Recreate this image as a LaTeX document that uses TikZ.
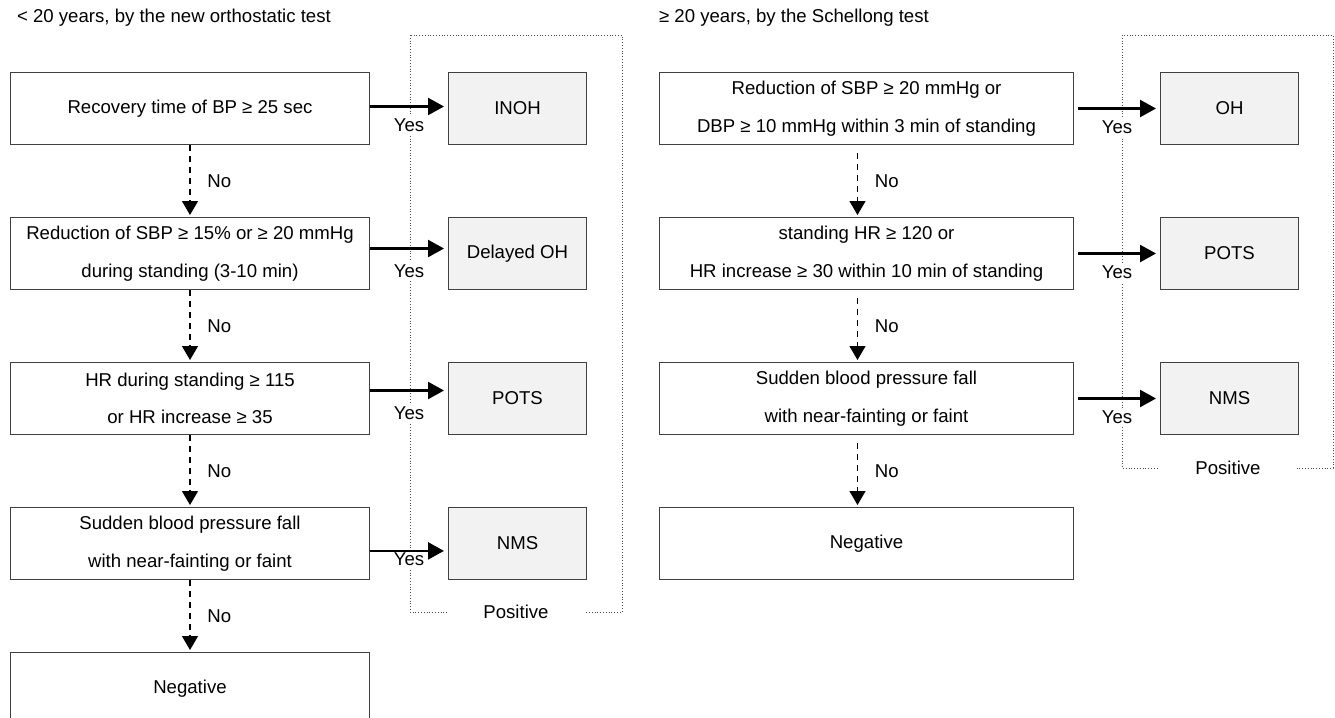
\documentclass[tikz,border=0pt]{standalone}
\usepackage{fontspec}
\setmainfont{Liberation Sans}
\usetikzlibrary{arrows.meta, positioning}

\begin{document}
\begin{tikzpicture}[x=0.5pt, y=-0.5pt,
    font=\fontsize{9.3}{18.7}\selectfont,
    cond/.style={draw=black!75, line width=0.5pt, fill=white, minimum height=36pt, align=center, inner sep=0pt},
    result/.style={draw=black!75, line width=0.5pt, fill=black!5, minimum width=69pt, minimum height=36pt},
    yesarrow/.style={-{Triangle[length=8pt, width=8.5pt]}, line width=1.2pt, shorten >=2pt},
    noarrow/.style={-{Triangle[length=7pt, width=8pt]}, dash pattern=on 3pt off 2.5pt, line width=0.7pt, shorten >=1pt},
    tag/.style={fill=white, inner sep=1.5pt},
    bracket/.style={densely dotted, line width=0.4pt, draw=black!70}]
    \useasboundingbox (0,0) rectangle (1335,718);

    % Titles
    \node[anchor=west] (ttlL) at (10,18) {< 20 years, by the new orthostatic test};
    \node[anchor=west] (ttlR) at (652,18) {≥ 20 years, by the Schellong test};

    % Positive brackets
    \draw[bracket] (410,35) rectangle (622,612);
    \draw[bracket] (1122,35) rectangle (1333,468);
    \node[tag, minimum width=69pt] (posL) at (516,612) {Positive};
    \node[tag, minimum width=69pt] (posR) at (1228,468) {Positive};

    % Left column
    \node[cond, minimum width=179.5pt, anchor=north west] (l1) at (10,72) {Recovery time of BP ≥ 25 sec};
    \node[cond, minimum width=179.5pt, below=36pt of l1] (l2) {Reduction of SBP ≥ 15\% or ≥ 20 mmHg\\during standing (3-10 min)};
    \node[cond, minimum width=179.5pt, below=36pt of l2] (l3) {HR during standing ≥ 115\\or HR increase ≥ 35};
    \node[cond, minimum width=179.5pt, below=36pt of l3] (l4) {Sudden blood pressure fall\\with near-fainting or faint};
    \node[cond, minimum width=179.5pt, below=36pt of l4] (l5) {Negative};

    \node[result, right=39pt of l1] (inoh) {INOH};
    \node[result, right=39pt of l2] (dloh) {Delayed OH};
    \node[result, right=39pt of l3] (potsL) {POTS};
    \node[result, right=39pt of l4] (nmsL) {NMS};

    \draw[yesarrow] ([yshift=1pt]l1.east) -- ([yshift=1pt]inoh.west) node[tag, behind path, midway, below=4pt] {Yes};
    \draw[yesarrow] ([yshift=2.5pt]l2.east) -- ([yshift=2.5pt]dloh.west) node[tag, behind path, midway, below=6pt] {Yes};
    \draw[yesarrow] ([yshift=4pt]l3.east) -- ([yshift=4pt]potsL.west) node[tag, behind path, midway, below=6pt] {Yes};
    \draw[yesarrow] ([yshift=-3.7pt]l4.east) -- ([yshift=-3.7pt]nmsL.west) node[tag, behind path, midway, below=-1pt] {Yes};

    \foreach \a/\b in {l1/l2, l2/l3, l3/l4, l4/l5}
        \draw[noarrow] (\a.south) -- (\b.north) node[midway, right=5pt] {No};

    % Right column
    \node[cond, minimum width=207pt, anchor=north west] (r1) at (659,72) {Reduction of SBP ≥ 20 mmHg or\\DBP ≥ 10 mmHg within 3 min of standing};
    \node[cond, minimum width=207pt, below=36pt of r1] (r2) {standing HR ≥ 120 or\\HR increase ≥ 30 within 10 min of standing};
    \node[cond, minimum width=207pt, below=36pt of r2] (r3) {Sudden blood pressure fall\\with near-fainting or faint};
    \node[cond, minimum width=207pt, below=36pt of r3] (r4) {Negative};

    \node[result, right=43pt of r1] (oh) {OH};
    \node[result, right=43pt of r2] (potsR) {POTS};
    \node[result, right=43pt of r3] (nmsR) {NMS};

    \foreach \a/\b in {r1/oh, r2/potsR, r3/nmsR}
        \draw[yesarrow, shorten <=2pt] (\a.east) -- (\b.west) node[tag, behind path, midway, below=4pt] {Yes};

    \foreach \a/\b in {r1/r2, r2/r3, r3/r4}
        \draw[noarrow, shorten <=4pt] ([xshift=-4.5pt]\a.south) -- ([xshift=-4.5pt]\b.north) node[midway, right=5pt] {No};
\end{tikzpicture}
\end{document}
